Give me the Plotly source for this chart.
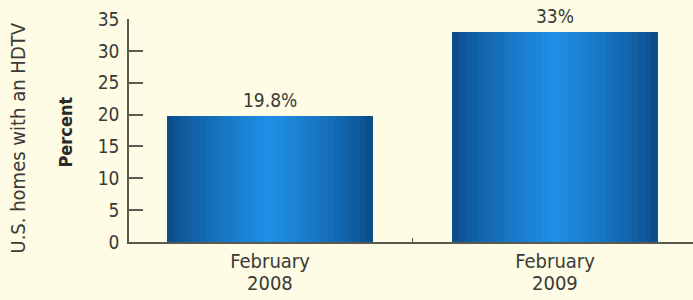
import plotly.graph_objects as go

months = ["February", "February"]
years = ["2008", "2009"]
values = [19.8, 33]
value_labels = ["19.8%", "33%"]
y_ticks = [0, 5, 10, 15, 20, 25, 30, 35]

BG = "#FEFCE4"
TXT = "#3a3a36"
AXC = "#5a5a50"
FONT = "DejaVu Sans Condensed, Liberation Sans Narrow, sans-serif"

xpos = list(range(len(months)))

fig = go.Figure()

# gradient simulation: layered bars, dark edges to lighter center
edge = (12, 78, 140)
center = (30, 142, 228)
N = 16
full_w = 0.72
for i in range(N):
    t = i / (N - 1)
    w = full_w * (1 - i / N)
    c = tuple(round(edge[k] + (center[k] - edge[k]) * (t ** 0.8)) for k in range(3))
    fig.add_trace(go.Bar(
        x=xpos, y=values, width=w,
        marker=dict(color="rgb(%d,%d,%d)" % c, line=dict(width=0)),
        hoverinfo="skip", showlegend=False,
    ))

for xi, v, t in zip(xpos, values, value_labels):
    fig.add_annotation(x=xi, y=v, text=t, showarrow=False, yanchor="middle",
                       yshift=16, font=dict(family=FONT, size=19, color=TXT))

for xi, yr in zip(xpos, years):
    fig.add_annotation(x=xi, y=0, text=yr, showarrow=False, yanchor="top",
                       yshift=-27, font=dict(family=FONT, size=20, color=TXT))

PLOT_W = 693 - 129
fig.add_annotation(xref="paper", yref="paper", x=(18 - 129) / PLOT_W, y=0.464,
                   text="U.S. homes with an HDTV", textangle=-90, showarrow=False,
                   xanchor="center", yanchor="middle",
                   font=dict(family=FONT, size=20, color=TXT))
fig.add_annotation(xref="paper", yref="paper", x=(66 - 129) / PLOT_W, y=0.491,
                   text="<b>Percent</b>", textangle=-90, showarrow=False,
                   xanchor="center", yanchor="middle",
                   font=dict(family=FONT, size=18, color="#2a2a26"))

fig.update_layout(
    width=693, height=300,
    margin=dict(l=129, r=0, t=19, b=58, autoexpand=False),
    paper_bgcolor=BG, plot_bgcolor=BG,
    barmode="overlay", bargap=0,
    showlegend=False,
    font=dict(family=FONT, size=18, color=TXT),
    xaxis=dict(
        range=[-0.495, 1.484], tickvals=xpos, ticktext=months,
        showline=True, linecolor=AXC, linewidth=1.5,
        ticks="", showgrid=False, zeroline=False,
        tickfont=dict(family=FONT, size=20, color=TXT),
        minor=dict(tickvals=[0.5], ticks="inside", ticklen=4,
                   tickcolor=AXC, tickwidth=1, showgrid=False),
    ),
    yaxis=dict(
        range=[0, 35], tickvals=y_ticks,
        showline=True, linecolor=AXC, linewidth=1.5,
        ticks="inside", ticklen=14, tickcolor=AXC, tickwidth=1.5,
        showgrid=False, zeroline=False, ticklabelstandoff=4,
        tickfont=dict(family=FONT, size=19, color=TXT),
    ),
)

fig.write_html("out.html", config={"displayModeBar": False},
               post_script="document.body.style.margin='0';document.body.style.background='%s';" % BG)
